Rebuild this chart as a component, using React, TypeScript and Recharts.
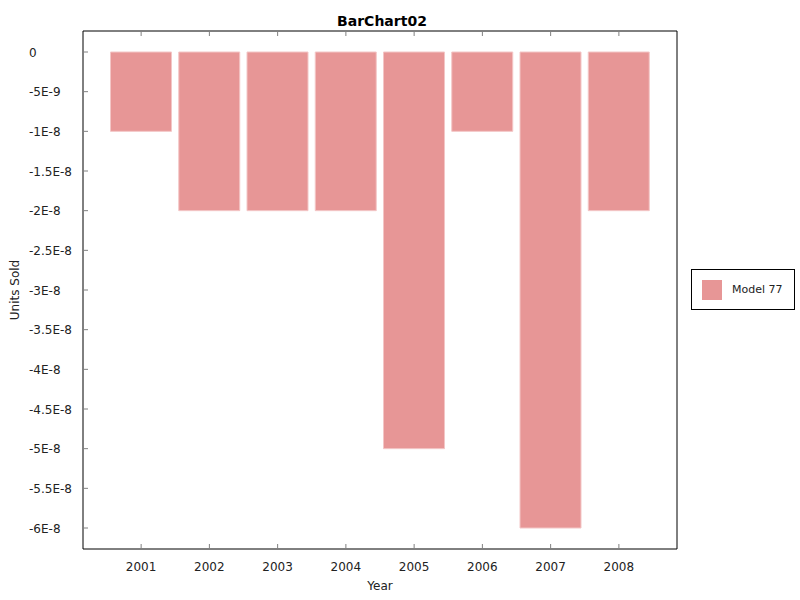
import { BarChart, Bar, XAxis, YAxis, Legend } from "recharts";

const years = ["2001", "2002", "2003", "2004", "2005", "2006", "2007", "2008"];
const unitsSold = [-1e-8, -2e-8, -2e-8, -2e-8, -5e-8, -1e-8, -6e-8, -2e-8];
const yTicks = [0, -5e-9, -1e-8, -1.5e-8, -2e-8, -2.5e-8, -3e-8, -3.5e-8, -4e-8, -4.5e-8, -5e-8, -5.5e-8, -6e-8];
const yTickLabels = ["0", "-5E-9", "-1E-8", "-1.5E-8", "-2E-8", "-2.5E-8", "-3E-8", "-3.5E-8", "-4E-8", "-4.5E-8", "-5E-8", "-5.5E-8", "-6E-8"];

const data = years.map((year, i) => ({ year, value: unitsSold[i] }));

const FONT = "'DejaVu Sans', sans-serif";
const TICK_COLOR = "#808080";
const TEXT_COLOR = "#222";

// ticks all point into the plot box, labels only on left and bottom
const BottomTick = (props: any) => {
  const { x, y, payload } = props;
  return (
    <g>
      <line x1={x} x2={x} y1={y} y2={y - 5} stroke={TICK_COLOR} />
      <text x={x} y={y + 22} textAnchor="middle" fontSize={12} fontFamily={FONT} fill={TEXT_COLOR}>
        {payload.value}
      </text>
    </g>
  );
};

const TopTick = (props: any) => {
  const { x, y } = props;
  return <line x1={x} x2={x} y1={y} y2={y + 5} stroke={TICK_COLOR} />;
};

const LeftTick = (props: any) => {
  const { x, y, payload } = props;
  const idx = yTicks.indexOf(payload.value);
  return (
    <g>
      <line x1={x} x2={x + 5} y1={y} y2={y} stroke={TICK_COLOR} />
      <text x={x - 54} y={y + 4.5} textAnchor="start" fontSize={12} fontFamily={FONT} fill={TEXT_COLOR}>
        {idx >= 0 ? yTickLabels[idx] : String(payload.value)}
      </text>
    </g>
  );
};

const RightTick = (props: any) => {
  const { x, y } = props;
  return <line x1={x} x2={x - 5} y1={y} y2={y} stroke={TICK_COLOR} />;
};

const LegendBox = (props: any) => {
  const item = props.payload && props.payload[0];
  return (
    <div
      style={{
        boxSizing: "border-box",
        width: 104,
        height: 41,
        border: "1px solid #000",
        background: "#fff",
        display: "flex",
        alignItems: "center",
        paddingLeft: 10,
        fontFamily: FONT,
      }}
    >
      <span style={{ display: "inline-block", width: 20, height: 20, background: "#e79696" }} />
      <span style={{ marginLeft: 10, fontSize: 11, color: TEXT_COLOR }}>{item ? item.value : "Model 77"}</span>
    </div>
  );
};

export default function App() {
  return (
    <div style={{ position: "absolute", left: 0, top: 0, width: 800, height: 600, background: "#fff", fontFamily: FONT }}>
      <div
        style={{
          position: "absolute",
          left: 0,
          width: 764,
          top: 13,
          textAlign: "center",
          fontSize: 14,
          lineHeight: "16px",
          fontWeight: "bold",
          color: "#000",
        }}
      >
        BarChart02
      </div>
      <BarChart
        width={800}
        height={600}
        data={data}
        margin={{ top: 0, right: 0, bottom: 0, left: 0 }}
        barCategoryGap={3.5}
      >
        <XAxis
          dataKey="year"
          xAxisId="bottom"
          orientation="bottom"
          height={51}
          padding={{ left: 24, right: 24 }}
          axisLine={{ stroke: "#000" }}
          tickLine={false}
          tickSize={0}
          tickMargin={0}
          tick={BottomTick}
          interval={0}
        />
        <XAxis
          dataKey="year"
          xAxisId="top"
          orientation="top"
          height={31}
          padding={{ left: 24, right: 24 }}
          axisLine={{ stroke: "#000" }}
          tickLine={false}
          tickSize={0}
          tickMargin={0}
          tick={TopTick}
          interval={0}
        />
        <YAxis
          yAxisId="left"
          orientation="left"
          width={83}
          type="number"
          domain={[-6e-8, 0]}
          ticks={yTicks}
          padding={{ top: 21, bottom: 21 }}
          axisLine={{ stroke: "#000" }}
          tickLine={false}
          tickSize={0}
          tickMargin={0}
          tick={LeftTick}
          interval={0}
        />
        <YAxis
          yAxisId="right"
          orientation="right"
          width={123}
          type="number"
          domain={[-6e-8, 0]}
          ticks={yTicks}
          padding={{ top: 21, bottom: 21 }}
          axisLine={{ stroke: "#000" }}
          tickLine={false}
          tickSize={0}
          tickMargin={0}
          tick={RightTick}
          interval={0}
        />
        <Legend
          layout="vertical"
          align="center"
          verticalAlign="middle"
          wrapperStyle={{ left: 691, top: 269, width: 104, height: 41 }}
          content={LegendBox}
        />
        <Bar
          dataKey="value"
          name="Model 77"
          xAxisId="bottom"
          yAxisId="left"
          fill="#e79696"
          stroke="#f3c6c6"
          strokeWidth={1}
          isAnimationActive={false}
        />
      </BarChart>
      <div
        style={{
          position: "absolute",
          left: 0,
          width: 760,
          top: 579,
          textAlign: "center",
          fontSize: 12,
          lineHeight: "14px",
          color: TEXT_COLOR,
        }}
      >
        Year
      </div>
      <div
        style={{
          position: "absolute",
          left: 15 - 50,
          top: 290 - 7,
          width: 100,
          textAlign: "center",
          fontSize: 12,
          lineHeight: "14px",
          color: TEXT_COLOR,
          transform: "rotate(-90deg)",
        }}
      >
        Units Sold
      </div>
    </div>
  );
}
